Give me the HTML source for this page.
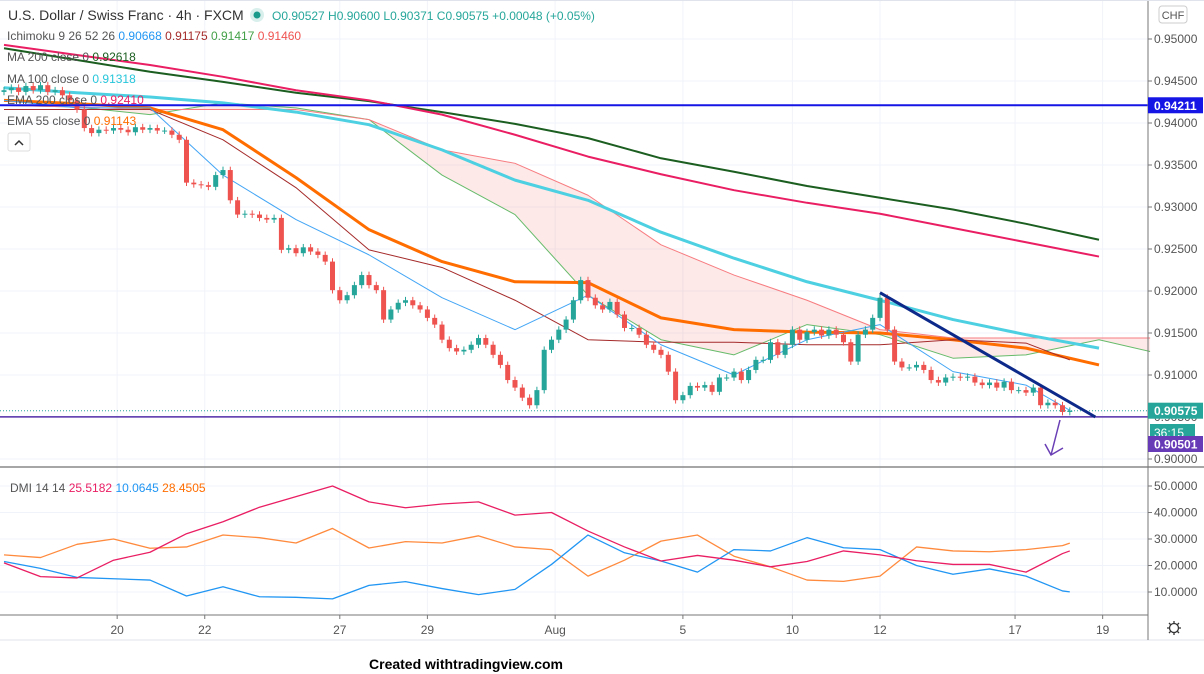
<!DOCTYPE html>
<html><head><meta charset="utf-8"><style>
html,body{margin:0;padding:0;background:#fff;width:1204px;height:674px;overflow:hidden}
svg{display:block;font-family:"Liberation Sans",sans-serif}
</style></head><body>
<svg id="chart" width="1204" height="674" viewBox="0 0 1204 674" xmlns="http://www.w3.org/2000/svg">
<rect x="0" y="0" width="1204" height="640" fill="#fff"/>
<g id="grid"></g>
<g id="cloud"></g>
<g id="lines"></g>
<g id="candles"></g>
<g id="overlay"></g>
<g id="dmi"></g>
<g id="axes"></g>
<g font-size="12" fill="#555">
<text x="8" y="20" font-size="14" fill="#333">U.S. Dollar / Swiss Franc · 4h · FXCM</text>
<circle cx="257" cy="15" r="7" fill="#d8efec"/><circle cx="257" cy="15" r="3.5" fill="#1a9a8a"/>
<text x="272" y="20" fill="#26a69a">O0.90527 H0.90600 L0.90371 C0.90575 +0.00048 (+0.05%)</text>
<text x="7" y="40">Ichimoku 9 26 52 26 <tspan fill="#2196f3">0.90668</tspan> <tspan fill="#a52a2a">0.91175</tspan> <tspan fill="#43a047">0.91417</tspan> <tspan fill="#ef5350">0.91460</tspan></text>
<text x="7" y="61">MA 200 close 0 <tspan fill="#1b5e20">0.92618</tspan></text>
<text x="7" y="83">MA 100 close 0 <tspan fill="#26c6da">0.91318</tspan></text>
<text x="7" y="104">EMA 200 close 0 <tspan fill="#e91e63">0.92410</tspan></text>
<text x="7" y="125">EMA 55 close 0 <tspan fill="#ff6d00">0.91143</tspan></text>
<rect x="8" y="133" width="22" height="18" rx="2" fill="#fff" stroke="#ddd"/>
<path d="M15 145 L19 141 L23 145" fill="none" stroke="#333" stroke-width="1.5"/>
<text x="10" y="492">DMI 14 14 <tspan fill="#e91e63">25.5182</tspan> <tspan fill="#2196f3">10.0645</tspan> <tspan fill="#ff6d00">28.4505</tspan></text>
</g>
<text x="466" y="669" font-size="14" font-weight="bold" fill="#000" text-anchor="middle">Created withtradingview.com</text>
</svg>
<script>
// ---- price data (4h closes, bar index 0..146) ----
const closes=[.9439,.9442,.9437,.9444,.9439,.9445,.9437,.9439,.9433,.9427,.9416,.9394,.9388,.9392,.9391,.9394,.9392,.9389,.9395,.9392,.9394,.9391,.9391,.9386,.9380,.9329,.9327,.9326,.9324,.9338,.9344,.9308,.9291,.9292,.9291,.9287,.9285,.9287,.9249,.9251,.9245,.9252,.9247,.9243,.9235,.9201,.9189,.9195,.9207,.9219,.9207,.9201,.9166,.9178,.9186,.9189,.9183,.9178,.9168,.9160,.9142,.9132,.9128,.9130,.9136,.9144,.9136,.9124,.9112,.9094,.9085,.9073,.9064,.9082,.9130,.9142,.9154,.9166,.9189,.9213,.9192,.9183,.9178,.9187,.9172,.9156,.9156,.9148,.9136,.9130,.9124,.9104,.9070,.9076,.9087,.9085,.9088,.9080,.9097,.9097,.9104,.9094,.9106,.9118,.9118,.9139,.9124,.9136,.9154,.9142,.9151,.9154,.9147,.9154,.9148,.9139,.9116,.9148,.9154,.9168,.9192,.9154,.9116,.9109,.9109,.9112,.9106,.9094,.9091,.9097,.9098,.9097,.9098,.9091,.9088,.9091,.9085,.9092,.9082,.9082,.9079,.9085,.9064,.9067,.9064,.9056,.90575];
const firstOpen=.9437;
// indicator sample bar indices
const gridIdx=[0,10,20,30,40,50,60,70,80,90,100,110,120,130,140,150];
const ichiIdx=[0,10,20,30,40,50,60,70,80,90,100,110,120,130,140,146];
const spanIdx=[0,10,20,30,40,50,60,70,80,90,100,110,120,130,140,150,157];
const ma200=[.9489,.9475,.9461,.9449,.9436,.9426,.9413,.9399,.9382,.9358,.9342,.9325,.9311,.9297,.9280,.9261];
const ema200=[.9493,.9481,.9469,.9455,.9439,.9427,.9410,.9386,.9360,.9339,.9320,.9305,.9292,.9275,.9258,.9241];
const ma100=[.9442,.9436,.9431,.9424,.9413,.9398,.9368,.9332,.9308,.9270,.9239,.9211,.9189,.9166,.9148,.9132];
const ema55=[.9427,.9423,.9418,.9392,.9335,.9273,.9235,.9211,.9210,.9168,.9154,.9151,.9150,.9142,.9132,.9112];
const conv=[.9427,.9418,.9418,.9338,.9285,.9243,.9192,.9154,.9195,.9136,.9100,.9142,.9160,.9104,.9088,.9058];
const base=[.9416,.9416,.9416,.9380,.9323,.9249,.9228,.9189,.9142,.9139,.9139,.9136,.9136,.9142,.9138,.9118];
const spanA=[.9421,.9419,.9410,.9424,.9418,.9404,.9338,.9291,.9195,.9142,.9124,.9160,.9148,.9120,.9124,.9142,.9128];
const spanB=[.9421,.9419,.9416,.9416,.9416,.9404,.9368,.9352,.9314,.9255,.9219,.9189,.9154,.9144,.9144,.9144,.9144];
// DMI
const dmiIdx=[0,5,10,15,20,25,30,35,40,45,50,55,60,65,70,75,80,85,90,95,100,105,110,115,120,125,130,135,140,145,146];
const adx=[21,15.8,15.3,22,25,32,36.5,42,46,50,44,41.8,43.2,44,39,40,33,27,21.7,23.8,22,19.5,21.5,25.5,24,21.8,20.4,20.4,17.5,24.5,25.5];
const diPlus=[21.5,18.9,15.5,15,14.5,8.5,12,8.2,8,7.4,12.5,13.9,11.3,9,11,20.4,31.5,24.8,21.7,17.5,26,25.5,30.5,26.7,26,20,16.7,18.7,16,10.4,10.06];
const diMinus=[24,23,28,30,26.5,27,31.5,30.5,28.5,34,26.6,29,28.5,31.2,27,26,16,22,29.2,31.5,23.5,19.5,14.5,14,16,27,25.5,25.2,26,27.5,28.45];
// axis ticks
const priceTicks=[0.95,0.945,0.94,0.935,0.93,0.925,0.92,0.915,0.91,0.905,0.90];
const dmiTicks=[50,40,30,20,10];
const dayLabels=["20","22","27","29","Aug","5","10","12","17","19"];
const dayBars=[15.5,27.5,46,58,75.5,93,108,120,138.5,150.5];
const hLevel=0.94211, supportLevel=0.90501;
const trendStart=[120,0.9198], trendEnd=[149.5,0.9050];

const NS="http://www.w3.org/2000/svg";
const PW=1148;
const xOf=i=>4+i*7.3;
const yP=p=>39+(0.95-p)/0.005*42;
const yD=v=>486+(50-v)*2.65;
function mk(tag,attrs,parent){const e=document.createElementNS(NS,tag);for(const k in attrs)e.setAttribute(k,attrs[k]);parent.appendChild(e);return e;}
const G=id=>document.getElementById(id);

// grid
const grid=G('grid');
priceTicks.forEach(p=>{const l=mk('line',{x1:0,x2:PW,y1:yP(p),y2:yP(p),stroke:'#f0f3fa'},grid);

});
dmiTicks.forEach(v=>{const l=mk('line',{x1:0,x2:PW,y1:yD(v),y2:yD(v),stroke:'#f0f3fa'},grid);

});
dayBars.forEach(b=>{const l=mk('line',{x1:xOf(b),x2:xOf(b),y1:0,y2:615,stroke:'#f0f3fa'},grid);

});

// cloud
const cloud=G('cloud');
let pts=spanIdx.map((b,i)=>xOf(b)+','+yP(spanA[i]));
let pts2=spanIdx.map((b,i)=>xOf(b)+','+yP(spanB[i])).reverse();
const cf=mk('polygon',{points:pts.concat(pts2).join(' '),fill:'rgba(239,83,80,0.13)'},cloud);



function line(idx,vals,color,w,name,parent,yf){const p=mk('polyline',{points:idx.map((b,i)=>xOf(b)+','+yf(vals[i])).join(' '),fill:'none',stroke:color,'stroke-width':w,'stroke-linejoin':'round'},parent);

return p;}
const L=G('lines');
line(spanIdx,spanA,'#66bb6a',1,'ichimoku-span-a',L,yP);
line(spanIdx,spanB,'#f77c80',1,'ichimoku-span-b',L,yP);
line(gridIdx,ma200,'#1b5e20',2,'ma-200-line',L,yP);
line(gridIdx,ema200,'#e91e63',2,'ema-200-line',L,yP);
line(gridIdx,ma100,'#4dd0e1',3,'ma-100-line',L,yP);
line(gridIdx,ema55,'#ff6d00',3,'ema-55-line',L,yP);
line(ichiIdx,base,'#a52a2a',1,'ichimoku-base-line',L,yP);
line(ichiIdx,conv,'#42a5f5',1,'ichimoku-conversion-line',L,yP);

// candles
const C=G('candles');
closes.forEach((c,i)=>{const o=i?closes[i-1]:firstOpen;const up=c>=o;const col=up?'#26a69a':'#ef5350';
const hi=Math.max(o,c)+0.0004, lo=Math.min(o,c)-0.0004;const x=xOf(i);
const w=mk('line',{x1:x,x2:x,y1:yP(hi),y2:yP(lo),stroke:col},C);


const r=mk('rect',{x:x-2.5,width:5,y:Math.min(yP(o),yP(c)),height:Math.max(1,Math.abs(yP(o)-yP(c))),fill:col},C);

});

// drawings
const O=G('overlay');
let e=mk('line',{x1:0,x2:PW,y1:yP(hLevel),y2:yP(hLevel),stroke:'#1515e6','stroke-width':2},O);


e=mk('line',{x1:0,x2:PW,y1:yP(supportLevel),y2:yP(supportLevel),stroke:'#512da8','stroke-width':1.5},O);


e=mk('line',{x1:0,x2:PW,y1:yP(closes[closes.length-1]),y2:yP(closes[closes.length-1]),stroke:'#26a69a','stroke-dasharray':'1,2'},O);


e=mk('line',{x1:xOf(trendStart[0]),y1:yP(trendStart[1]),x2:xOf(trendEnd[0]),y2:yP(trendEnd[1]),stroke:'#0d2a8a','stroke-width':3},O);


e=mk('path',{d:'M1060 420 L1051 455 M1045 444 L1051 455 L1063 448',fill:'none',stroke:'#6a3fb5','stroke-width':1.5},O);



// dmi
const D=G('dmi');
line(dmiIdx,diMinus,'#ff8a3d',1.3,'dmi-minus-di',D,yD);
line(dmiIdx,diPlus,'#2196f3',1.3,'dmi-plus-di',D,yD);
line(dmiIdx,adx,'#e91e63',1.3,'dmi-adx',D,yD);

// axes
const A=G('axes');
mk('line',{x1:0,x2:1204,y1:467,y2:467,stroke:'#888','stroke-width':1.5},A);
mk('line',{x1:0,x2:PW,y1:615,y2:615,stroke:'#777'},A);
mk('line',{x1:0,x2:1204,y1:640,y2:640,stroke:'#e0e3eb'},A);
mk('line',{x1:PW,x2:PW,y1:0,y2:640,stroke:'#777'},A);
mk('line',{x1:0,x2:1204,y1:0.5,y2:0.5,stroke:'#e0e3eb'},A);
priceTicks.forEach(p=>{mk('line',{x1:PW,x2:PW+4,y1:yP(p),y2:yP(p),stroke:'#777'},A);
const t=mk('text',{x:1154,y:yP(p)+4,'font-size':12,fill:'#555'},A);t.textContent=p.toFixed(5);

});
dmiTicks.forEach(v=>{mk('line',{x1:PW,x2:PW+4,y1:yD(v),y2:yD(v),stroke:'#777'},A);
const t=mk('text',{x:1154,y:yD(v)+4,'font-size':12,fill:'#555'},A);t.textContent=v.toFixed(4);

});
dayLabels.forEach((s,i)=>{const x=xOf(dayBars[i]);mk('line',{x1:x,x2:x,y1:615,y2:619,stroke:'#777'},A);
const t=mk('text',{x:x,y:634,'font-size':12,fill:'#555','text-anchor':'middle'},A);t.textContent=s;

});
function tag(y,h,bg,txt,name){const g=mk('g',{},A);


mk('rect',{x:PW,y:y-h/2,width:55,height:h,fill:bg},g);const t=mk('text',{x:1154,y:y+4.5,'font-size':12,'font-weight':'bold',fill:'#fff'},g);t.textContent=txt;}
tag(yP(hLevel),16,'#1515e6','0.94211','resistance-price-tag');
tag(yP(closes[closes.length-1]),16,'#26a69a','0.90575','last-price-tag');
const cd=mk('rect',{x:1150,y:424,width:45,height:17,fill:'#26a69a'},A);


let ct=mk('text',{x:1154,y:437,'font-size':12,fill:'#fff'},A);ct.textContent='36:15';
tag(444,16,'#673ab7','0.90501','support-price-tag');
const cb=mk('rect',{x:1159,y:6,width:28,height:17,rx:3,fill:'#fff',stroke:'#ccc'},A);


ct=mk('text',{x:1173,y:19,'font-size':11,fill:'#555','text-anchor':'middle'},A);ct.textContent='CHF';
const gear=mk('g',{},A);


mk('circle',{cx:1174,cy:628,r:4.5,fill:'none',stroke:'#333','stroke-width':1.3},gear);
mk('path',{d:'M1174 621v2M1174 633v2M1167 628h2M1179 628h2M1169 623l1.5 1.5M1177.5 631.5l1.5 1.5M1169 633l1.5-1.5M1177.5 624.5l1.5-1.5',stroke:'#333','stroke-width':1.3},gear);
</script>
</body></html>
